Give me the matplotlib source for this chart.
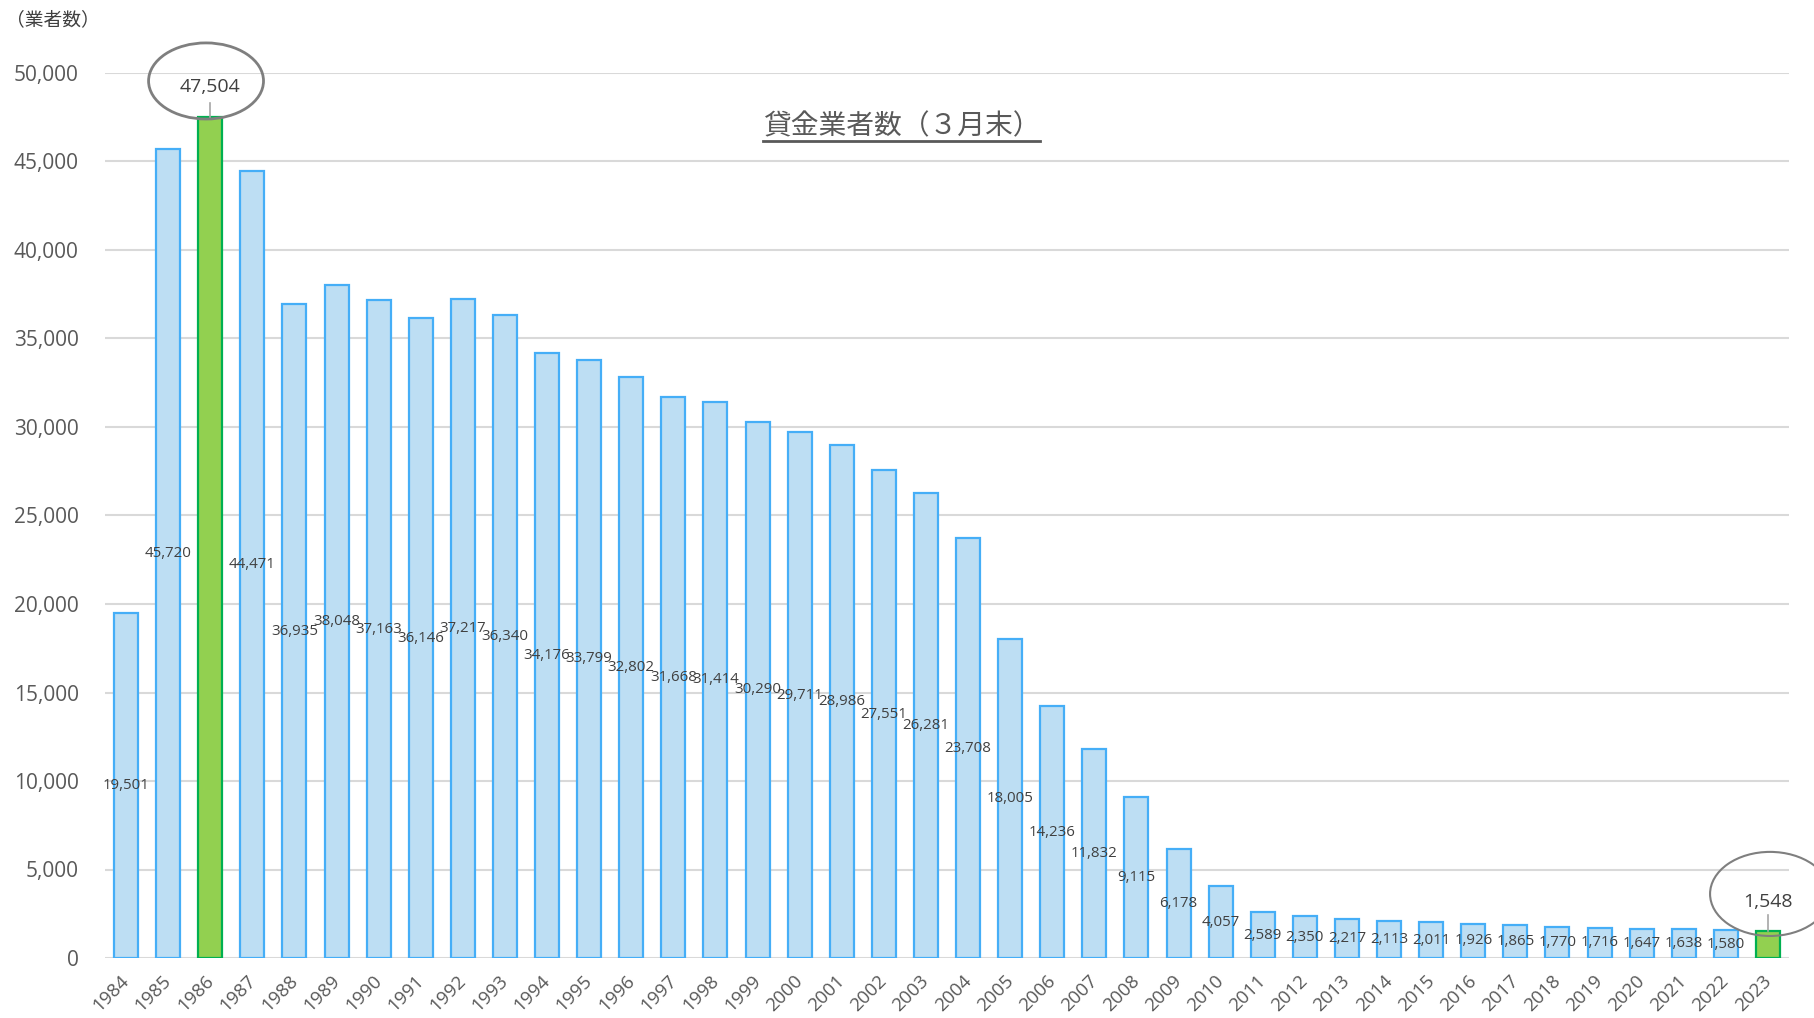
import matplotlib
matplotlib.use("Agg")
import matplotlib.pyplot as plt
from matplotlib.patches import Ellipse
from matplotlib.lines import Line2D
from matplotlib.transforms import ScaledTranslation

plt.rcParams['font.family'] = ['Noto Sans CJK JP', 'DejaVu Sans']
NUM_FONT = ['Open Sans', 'DejaVu Sans']

years = [str(y) for y in range(1984, 2024)]
counts = [19501, 45720, 47504, 44471, 36935, 38048, 37163, 36146, 37217, 36340,
          34176, 33799, 32802, 31668, 31414, 30290, 29711, 28986, 27551, 26281,
          23708, 18005, 14236, 11832, 9115, 6178, 4057, 2589, 2350, 2217,
          2113, 2011, 1926, 1865, 1770, 1716, 1647, 1638, 1580, 1548]
highlight_years = ['1986', '2023']
yticks = [0, 5000, 10000, 15000, 20000, 25000, 30000, 35000, 40000, 45000, 50000]
title = '貸金業者数（３月末）'
unit_label = '（業者数）'

W, H = 1815, 1018
fig = plt.figure(figsize=(W / 100, H / 100), dpi=100)
ax = fig.add_axes([105 / W, 60 / H, 1684 / W, 885 / H])

blue_fill, blue_edge = '#BDDEF3', '#45AEF7'
green_fill, green_edge = '#92D050', '#00B050'
x = list(range(len(years)))
fills = [green_fill if y in highlight_years else blue_fill for y in years]
edges = [green_edge if y in highlight_years else blue_edge for y in years]
ax.bar(x, counts, width=0.57, color=fills, edgecolor=edges, linewidth=1.6, zorder=3)

ax.set_xlim(-0.5, len(years) - 0.5)
ax.set_ylim(0, 50000)
ax.set_yticks(yticks)
ax.set_yticklabels([f'{v:,}' for v in yticks], fontsize=15, color='#595959', family=NUM_FONT)
ax.yaxis.grid(True, color='#D9D9D9', linewidth=1.5, zorder=0)
ax.set_axisbelow(True)
for s in ax.spines.values():
    s.set_visible(False)
ax.tick_params(axis='y', length=0, pad=19)
ax.tick_params(axis='x', length=0, pad=10)
ax.set_xticks(x)
ax.set_xticklabels(years, rotation=45, ha='right', va='top', rotation_mode='anchor',
                   fontsize=13.5, color='#595959', family=NUM_FONT)
shift = ScaledTranslation(-6 / 100, 0, fig.dpi_scale_trans)
for lab in ax.get_xticklabels():
    lab.set_transform(lab.get_transform() + shift)

# centered data labels
for xi, yr, v in zip(x, years, counts):
    if yr in highlight_years:
        continue
    ax.text(xi, v / 2, f'{v:,}', ha='center', va='center', fontsize=10.8, color='#404040',
            family=NUM_FONT, zorder=4)

# callouts
i86 = years.index('1986')
ax.add_patch(Ellipse((i86 - 0.1, 49550), 2.73, 4300, fill=False, edgecolor='#7F7F7F',
                     linewidth=2, clip_on=False, zorder=5))
ax.text(i86, 49200, f'{counts[i86]:,}', ha='center', va='center', fontsize=14, color='#404040',
        family=NUM_FONT, clip_on=False, zorder=6)
ax.plot([i86, i86], [counts[i86], 48300], color='#A6A6A6', linewidth=1.2, clip_on=False, zorder=6)

i23 = years.index('2023')
ax.add_patch(Ellipse((i23 + 0.05, 3620), 2.85, 4750, fill=False, edgecolor='#7F7F7F',
                     linewidth=1.5, clip_on=False, zorder=5))
ax.text(i23, 3150, f'{counts[i23]:,}', ha='center', va='center', fontsize=14, color='#404040',
        family=NUM_FONT, clip_on=False, zorder=6)
ax.plot([i23, i23], [counts[i23], 2430], color='#A6A6A6', linewidth=1.2, clip_on=False, zorder=6)

# unit label
fig.text(6 / W, 1 - 20 / H, unit_label, ha='left', va='center', fontsize=13.5, color='#404040')

# title with underline
t = fig.text(763 / W, 1 - 126 / H, title, ha='left', va='center', fontsize=20, color='#595959')
fig.canvas.draw()
bb = t.get_window_extent()
fig.add_artist(Line2D([bb.x0 / W, bb.x1 / W], [(H - 141) / H, (H - 141) / H],
                      color='#595959', linewidth=2))

fig.savefig('out.png', dpi=100)
